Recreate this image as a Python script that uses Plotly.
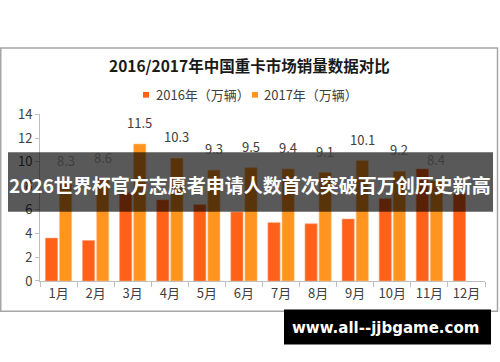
import plotly.graph_objects as go

months = ["1月", "2月", "3月", "4月", "5月", "6月", "7月", "8月", "9月", "10月", "11月", "12月"]
sales_2016 = [3.6, 3.4, 7.4, 6.8, 6.4, 5.8, 4.9, 4.8, 5.2, 6.9, 9.4, 7.3]
sales_2017 = [8.3, 8.6, 11.5, 10.3, 9.3, 9.5, 9.4, 9.1, 10.1, 9.2, 8.4, None]
labels_2017 = ["8.3", "8.6", "11.5", "10.3", "9.3", "9.5", "9.4", "9.1", "10.1", "9.2", "8.4", ""]
series_names = ["2016年（万辆）", "2017年（万辆）"]
title_text = "2016/2017年中国重卡市场销量数据对比"
banner_text = "2026世界杯官方志愿者申请人数首次突破百万创历史新高"
site_text = "www.all--jjbgame.com"

FONT = "Noto Sans CJK SC, Microsoft YaHei, sans-serif"
W, H = 500, 362
C2016, C2017 = "#FF6119", "#FF941F"
BARGAP = 0.24
X0, X1 = 40, 485


def py(px):
    return 1 - px / H


def px_(x):
    return x / W


fig = go.Figure()
fig.add_trace(go.Bar(x=months, y=sales_2016, name=series_names[0], showlegend=False,
                     marker=dict(color=C2016, line=dict(width=0.6, color="#FF9A70"))))
fig.add_trace(go.Bar(x=months, y=sales_2017, name=series_names[1], showlegend=False,
                     marker=dict(color=C2017, line=dict(width=0.6, color="#FFC080"))))

# data labels above the 2017 bars
cat_w = (X1 - X0) / len(months)
shift_2017 = cat_w * (1 - BARGAP) / 4
annotations = []
for m, v, t in zip(months, sales_2017, labels_2017):
    if v is None or not t:
        continue
    annotations.append(dict(x=m, y=v, xref="x", yref="y", text=t, showarrow=False,
                            xanchor="center", yanchor="bottom", xshift=shift_2017, yshift=10,
                            font=dict(size=13, color="#404040", family=FONT)))

# custom legend
legend_items = [(series_names[0], C2016, 143, 149, 154), (series_names[1], C2017, 252, 258, 262)]
shapes = [
    dict(type="rect", xref="paper", yref="paper", x0=px_(0.75), x1=px_(497.5),
         y0=py(318), y1=py(40), line=dict(color="#A6A6A6", width=1.5),
         fillcolor="rgba(0,0,0,0)", layer="below"),
]
for name, col, a, b, tx in legend_items:
    shapes.append(dict(type="rect", xref="paper", yref="paper", x0=px_(a), x1=px_(b),
                       y0=py(92.5), y1=py(86.5), line=dict(width=0), fillcolor=col))
    annotations.append(dict(text=name, x=px_(tx), y=py(89), xref="paper", yref="paper",
                            showarrow=False, xanchor="left", yanchor="middle",
                            font=dict(size=13, color="#404040", family=FONT)))

annotations += [
    dict(text="<b>" + title_text + "</b>", x=px_(249), y=py(58), xref="paper", yref="paper",
         showarrow=False, xanchor="center", yanchor="middle",
         font=dict(size=15.5, color="#1A1A1A", family=FONT)),
    dict(text="<b>" + banner_text + "</b>", x=px_(250), y=py(184), xref="paper", yref="paper",
         showarrow=False, xanchor="center", yanchor="middle",
         font=dict(size=19, color="white", family=FONT)),
    dict(text="<b>" + site_text + "</b>", x=px_(385.5), y=py(336), xref="paper", yref="paper",
         showarrow=False, xanchor="center", yanchor="middle",
         font=dict(size=15, color="white", family="DejaVu Sans, sans-serif")),
]
shapes += [
    dict(type="rect", xref="paper", yref="paper", x0=px_(8), x1=px_(493),
         y0=py(213), y1=py(150), line=dict(width=0),
         fillcolor="rgba(0,0,0,0.65)", layer="above"),
    dict(type="rect", xref="paper", yref="paper", x0=px_(284), x1=px_(491),
         y0=py(353), y1=py(316), line=dict(width=0),
         fillcolor="black", layer="above"),
]

fig.update_layout(
    width=W, height=H,
    margin=dict(l=0, r=0, t=0, b=0),
    paper_bgcolor="white", plot_bgcolor="white",
    font=dict(family=FONT, color="#404040", size=13),
    barmode="group", bargap=BARGAP, bargroupgap=0.14,
    showlegend=False,
    xaxis=dict(domain=[px_(X0), px_(X1)], type="category",
               showline=True, linecolor="#BFBFBF", linewidth=1,
               ticks="outside", tickson="boundaries", ticklen=5, tickcolor="#BFBFBF",
               tickfont=dict(size=13, color="#404040"), showgrid=False, fixedrange=True),
    yaxis=dict(domain=[py(286), py(110)], range=[0, 14], dtick=2,
               showline=True, linecolor="#BFBFBF", linewidth=1,
               ticks="outside", ticklen=4, tickcolor="#BFBFBF",
               tickfont=dict(size=13, color="#404040"), showgrid=False, zeroline=False,
               fixedrange=True),
    annotations=annotations,
    shapes=shapes,
)

fig.write_html("out.html", config={"displayModeBar": False},
               post_script="document.body.style.margin='0';document.body.style.overflow='hidden';")
